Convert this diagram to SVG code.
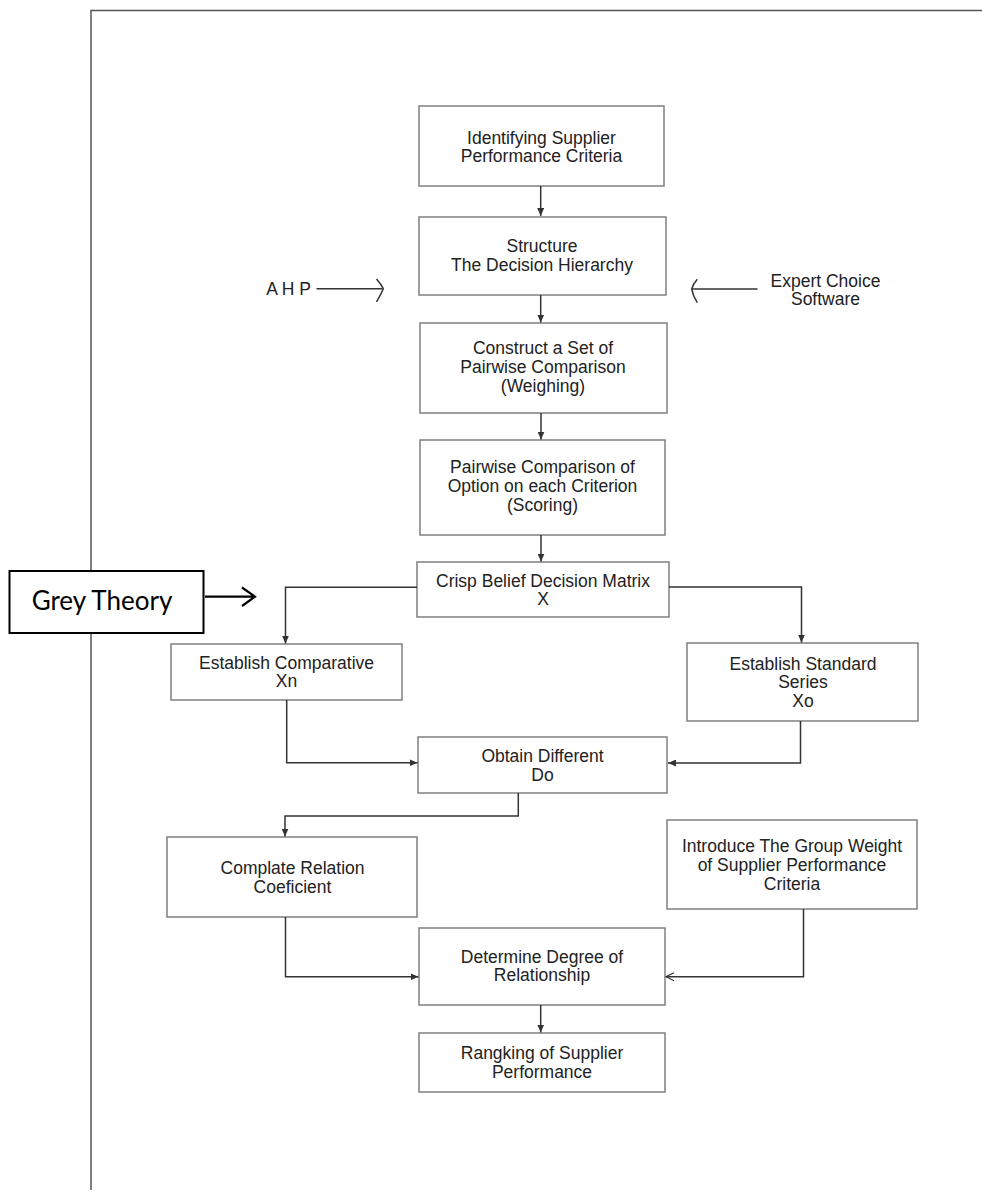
<svg xmlns="http://www.w3.org/2000/svg" width="982" height="1191" viewBox="0 0 982 1191">
<style>
.box{fill:#fff;stroke:#808080;stroke-width:1.5}
.t{font-family:"Liberation Sans",Arial,sans-serif;font-size:17.5px;fill:#222;text-anchor:middle}
.c{fill:none;stroke:#333;stroke-width:1.5}
.frame{fill:none;stroke:#555;stroke-width:1.5}
</style>
<defs>
<marker id="ah" markerUnits="userSpaceOnUse" markerWidth="8" markerHeight="7" refX="8" refY="3.5" orient="auto">
<path d="M0,0 L8,3.5 L0,7 z" fill="#333"/>
</marker>
<marker id="oh" markerUnits="userSpaceOnUse" markerWidth="10" markerHeight="10" refX="9" refY="5" orient="auto">
<path d="M1,1 L9,5 L1,9" fill="none" stroke="#333" stroke-width="1.2"/>
</marker>
</defs>
<rect width="982" height="1191" fill="#fff"/>
<path class="frame" d="M91,1190 L91,10.5 L982,10.5"/>

<g id="n1"><rect class="box" x="419" y="106" width="245" height="80"/>
<text class="t" x="541.5" y="143.5">Identifying Supplier</text><text class="t" x="541.5" y="162">Performance Criteria</text></g>

<g id="n2"><rect class="box" x="419" y="217" width="247" height="78"/>
<text class="t" x="542" y="252">Structure</text><text class="t" x="542" y="270.5">The Decision Hierarchy</text></g>

<g id="n3"><rect class="box" x="420" y="323" width="247" height="90"/>
<text class="t" x="543" y="354">Construct a Set of</text><text class="t" x="543" y="373">Pairwise Comparison</text><text class="t" x="543" y="392">(Weighing)</text></g>

<g id="n4"><rect class="box" x="420" y="440" width="245" height="95"/>
<text class="t" x="542.5" y="473">Pairwise Comparison of</text><text class="t" x="542.5" y="492">Option on each Criterion</text><text class="t" x="542.5" y="511">(Scoring)</text></g>

<g id="ahp"><text class="t" x="288.5" y="295">A H P</text></g>
<g id="expert"><text class="t" x="825.5" y="286.5">Expert Choice</text><text class="t" x="825.5" y="305">Software</text></g>

<g id="grey"><rect x="9.5" y="571" width="194" height="62" fill="#fff" stroke="#000" stroke-width="2"/>
<text x="102" y="610" font-family="Lato,'Open Sans',sans-serif" font-size="26" fill="#000" text-anchor="middle">Grey Theory</text></g>

<g id="crisp"><rect class="box" x="417" y="562" width="252" height="55"/>
<text class="t" x="543" y="586.5">Crisp Belief Decision Matrix</text><text class="t" x="543" y="605">X</text></g>

<g id="xn"><rect class="box" x="171" y="644" width="231" height="56"/>
<text class="t" x="286.5" y="668.5">Establish Comparative</text><text class="t" x="286.5" y="687">Xn</text></g>

<g id="xo"><rect class="box" x="687" y="643" width="231" height="78"/>
<text class="t" x="803" y="669.5">Establish Standard</text><text class="t" x="803" y="688">Series</text><text class="t" x="803" y="706.5">Xo</text></g>

<g id="do"><rect class="box" x="418" y="737" width="249" height="56"/>
<text class="t" x="542.5" y="762">Obtain Different</text><text class="t" x="542.5" y="780.5">Do</text></g>

<g id="complate"><rect class="box" x="167" y="837" width="250" height="80"/>
<text class="t" x="292.5" y="874">Complate Relation</text><text class="t" x="292.5" y="892.5">Coeficient</text></g>

<g id="introduce"><rect class="box" x="667" y="820" width="250" height="89"/>
<text class="t" x="792" y="852">Introduce The Group Weight</text><text class="t" x="792" y="871">of Supplier Performance</text><text class="t" x="792" y="890">Criteria</text></g>

<g id="determine"><rect class="box" x="419" y="928" width="246" height="77"/>
<text class="t" x="542" y="962.5">Determine Degree of</text><text class="t" x="542" y="981">Relationship</text></g>

<g id="rank"><rect class="box" x="419" y="1033" width="246" height="59"/>
<text class="t" x="542" y="1059">Rangking of Supplier</text><text class="t" x="542" y="1077.5">Performance</text></g>

<g id="connectors">
<path class="c" d="M540.7,186 L540.7,216" marker-end="url(#ah)"/>
<path class="c" d="M540.7,295 L540.7,322.5" marker-end="url(#ah)"/>
<path class="c" d="M541,413 L541,439.5" marker-end="url(#ah)"/>
<path class="c" d="M541,535 L541,561.5" marker-end="url(#ah)"/>
<path class="c" d="M316.5,288.7 L382,288.7"/>
<path class="c" d="M376.5,279 Q381,284 383.3,288.7 Q381,294 376.5,302"/>
<path class="c" d="M757.5,289 L692,289"/>
<path class="c" d="M697.3,279.3 Q693,284 691.7,289 Q693,296 697.3,302.7"/>
<path d="M205,596.7 L254,596.7 M242,587.5 L255,596.7 L242,606" fill="none" stroke="#000" stroke-width="2.2"/>
<path class="c" d="M417,587.3 L285.5,587.3 L285.5,643.5" marker-end="url(#ah)"/>
<path class="c" d="M669,587 L801.5,587 L801.5,642.5" marker-end="url(#ah)"/>
<path class="c" d="M286.7,700 L286.7,762.7 L417.5,762.7" marker-end="url(#ah)"/>
<path class="c" d="M800.5,721 L800.5,763 L668,763" marker-end="url(#ah)"/>
<path class="c" d="M518.3,793 L518.3,816 L285,816 L285,836.5" marker-end="url(#ah)"/>
<path class="c" d="M285.5,917 L285.5,976.7 L418.5,976.7" marker-end="url(#ah)"/>
<path class="c" d="M803.5,909 L803.5,976.7 L666,976.7" marker-end="url(#oh)"/>
<path class="c" d="M540.7,1005 L540.7,1032.5" marker-end="url(#ah)"/>
</g>
</svg>
